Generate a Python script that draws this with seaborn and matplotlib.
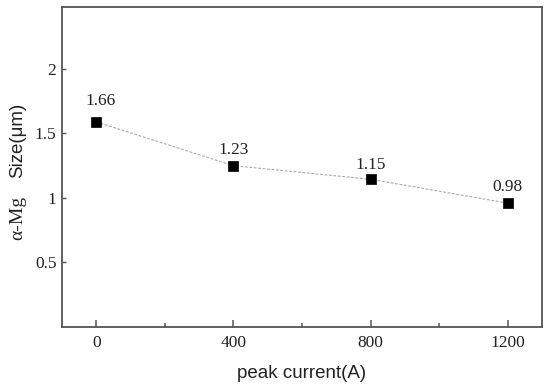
import matplotlib
matplotlib.use("Agg")
import matplotlib.pyplot as plt
import seaborn as sns
import pandas as pd
from matplotlib.ticker import MultipleLocator

current = [0, 400, 800, 1200]
size = [1.59, 1.25, 1.145, 0.96]
labels = ["1.66", "1.23", "1.15", "0.98"]
xticks = [0, 400, 800, 1200]
yticks = [0.5, 1, 1.5, 2]
yticklabels = ["0.5", "1", "1.5", "2"]

df = pd.DataFrame({"current": current, "size": size})

sns.set_style("white")
plt.rcParams["font.family"] = ["DejaVu Sans"]

fig = plt.figure(figsize=(5.5, 3.88), dpi=100)
ax = fig.add_axes([62 / 550, 1 - 327 / 388, 480 / 550, 320 / 388])

sns.lineplot(data=df, x="current", y="size", ax=ax, color="#a8a8a8",
             linewidth=0.8, linestyle=(0, (2.5, 1.5)), marker="s",
             markersize=6.5, markerfacecolor="black", markeredgecolor="black",
             markeredgewidth=0.5)

offsets = [13, 8, 6, 8]
for x, y, t, o in zip(current, size, labels, offsets):
    ax.annotate(t, (x, y), xytext=(4 if x == 0 else 0, o), textcoords="offset pixels",
                ha="center", va="bottom", fontsize=12.5,
                family="Liberation Serif", color="#222222")

ax.set_xlim(-100, 1300)
ax.set_ylim(0, 2.48)
ax.set_xticks(xticks)
ax.set_xticklabels([str(v) for v in xticks], family="Liberation Serif", fontsize=12.5, color="#222222")
ax.xaxis.set_minor_locator(MultipleLocator(200))
ax.set_yticks(yticks)
ax.set_yticklabels(yticklabels, family="Liberation Serif", fontsize=12.5, color="#222222")

ax.tick_params(axis="x", which="major", direction="in", length=5, width=1.1,
               color="#555555", pad=6, top=False, bottom=True)
ax.tick_params(axis="x", which="minor", direction="in", length=3, width=1.1,
               color="#555555", top=False, bottom=True)
ax.tick_params(axis="y", which="major", direction="in", length=3, width=1.0,
               color="#555555", pad=4, left=True, right=False)

for s in ax.spines.values():
    s.set_color("#555555")
    s.set_linewidth(1.3)

ax.set_xlabel("peak current(A)", family="Liberation Sans", fontsize=13.5,
              color="#222222", labelpad=10)
ax.set_ylabel("")
ax.text(-0.092, 0.584, "Size(μm)", transform=ax.transAxes, rotation=90,
        ha="center", va="center", family="Liberation Sans", fontsize=13.5, color="#222222")
ax.text(-0.092, 0.34, "α-Mg", transform=ax.transAxes, rotation=90,
        ha="center", va="center", family="Liberation Serif", fontsize=14, color="#222222")

fig.savefig("out.png", dpi=100)
